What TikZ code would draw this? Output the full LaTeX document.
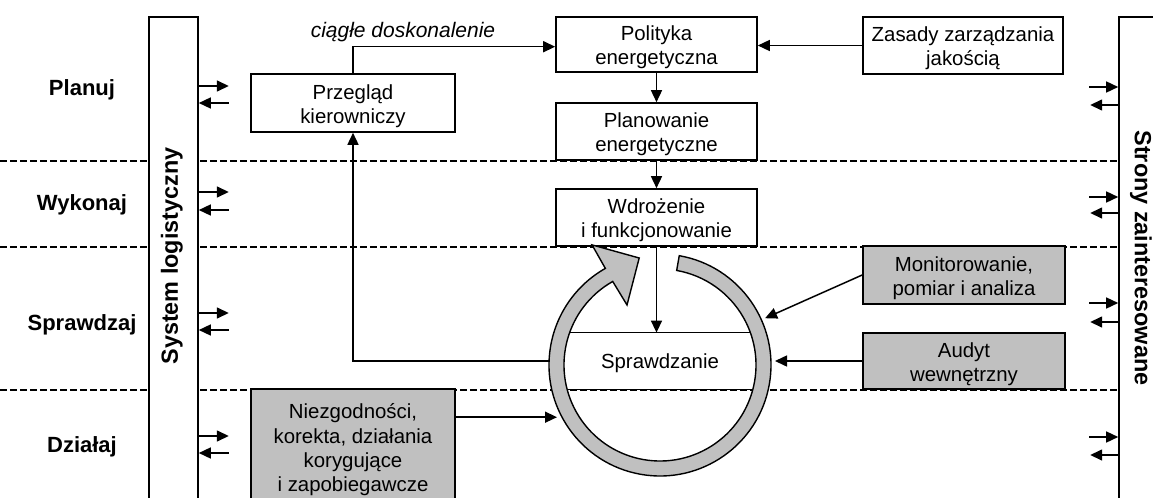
\documentclass[tikz,border=0pt]{standalone}
\usepackage{fontspec}
\setmainfont{Liberation Sans}
\usetikzlibrary{arrows.meta,calc}
\definecolor{boxgray}{HTML}{C0C0C0}
\begin{document}
\begin{tikzpicture}[x=0.5pt,y=0.5pt,
  every node/.style={font=\fontsize{10.2}{12.2}\selectfont},
  box/.style={draw,line width=0.8pt,fill=white,inner sep=0pt},
  graybox/.style={box,fill=boxgray},
  boxtext/.style={align=center,inner sep=0pt},
  bar/.style={draw,line width=0.8pt,fill=white,inner sep=0pt},
  rowlabel/.style={font=\fontsize{11}{13}\selectfont\bfseries},
  sidelabel/.style={font=\fontsize{11.7}{14}\selectfont\bfseries},
  arr/.style={line width=0.75pt,-{Triangle[length=6pt,width=5.5pt]}},
  sep/.style={line width=0.6pt,dash pattern=on 3.3pt off 1.7pt},
  ring/.style={draw,line width=0.7pt,fill=boxgray}]
\useasboundingbox (0,0) rectangle (1153,-498);
\clip (0,0) rectangle (1153,-498);

% phase separators
\foreach \yy in {161,247,390}
  \draw[sep] (0,-\yy) -- (1153,-\yy);

% side bars
\node[bar,minimum width=24.5pt,minimum height=249pt] (sys) at (173.5,-266) {};
\node[bar,minimum width=30.5pt,minimum height=249pt] (str) at (1149.5,-266) {};
\node[sidelabel,rotate=90] (systxt) at (172,-256) {System logistyczny};
\node[sidelabel,rotate=-90] (strtxt) at (1141,-258) {Strony zainteresowane};

% phase names
\node[rowlabel] (planuj) at (82,-90) {Planuj};
\node[rowlabel] (wykonaj) at (82,-205) {Wykonaj};
\node[rowlabel] (sprawdzaj) at (82,-325) {Sprawdzaj};
\node[rowlabel] (dzialaj) at (82,-447) {Działaj};

% exchange arrows at the side bars
\foreach \ya/\yb in {86/103,192/210,313/330,436/453}{
  \path (0,-\ya) coordinate (la) (0,-\yb) coordinate (lb);
  \draw[arr] (sys.east |- la) -- ++(15pt,0);
  \draw[arr] ($(sys.east |- lb)+(15pt,0)$) -- (sys.east |- lb);
}
\foreach \ya/\yb in {87/105,197/213,303/322,437/455}{
  \path (0,-\ya) coordinate (ra) (0,-\yb) coordinate (rb);
  \draw[arr] ($(str.west |- ra)+(-14.5pt,0)$) -- (str.west |- ra);
  \draw[arr] (str.west |- rb) -- ++(-14pt,0);
}

% boxes and their texts
\node[box,minimum width=100.5pt,minimum height=27.5pt] (pol) at (656.5,-44.5) {};
\node[boxtext] (polt) at ([yshift=-1.5pt]pol.center) {Polityka\\energetyczna};
\node[box,minimum width=100pt,minimum height=28.5pt] (zas) at (963,-45.5) {};
\node[boxtext] (zast) at ([yshift=-1.5pt]zas.center) {Zasady zarządzania\\jakością};
\node[box,minimum width=102pt,minimum height=29pt] (prz) at (353,-103) {};
\node[boxtext] (przt) at ([yshift=-1.5pt]prz.center) {Przegląd\\kierowniczy};
\node[box,minimum width=100.5pt,minimum height=28.5pt] (plan) at (656.5,-131.5) {};
\node[boxtext] (plant) at ([yshift=-1.5pt]plan.center) {Planowanie\\energetyczne};
\node[box,minimum width=100.5pt,minimum height=28.5pt] (wdr) at (656.5,-217.5) {};
\node[boxtext] (wdrt) at ([yshift=-1.5pt]wdr.center) {Wdrożenie\\i funkcjonowanie};
\node[graybox,minimum width=101pt,minimum height=29pt] (mon) at (964,-275) {};
\node[boxtext] (mont) at ([yshift=-1.5pt]mon.center) {Monitorowanie,\\pomiar i analiza};
\node[graybox,minimum width=101pt,minimum height=28pt] (aud) at (964,-361) {};
\node[boxtext] (audt) at ([yshift=-1.5pt]aud.center) {Audyt\\wewnętrzny};
\node[graybox,minimum width=102pt,minimum height=63pt] (nie) at (353,-452) {};
\node[boxtext] (niet) at (353,-450) {Niezgodności,\\korekta, działania\\korygujące\\i zapobiegawcze};

% improvement cycle ring with arrowhead
\coordinate (ringc) at (660,-365);
\path[ring] ($(ringc)+(80:55.5pt)$)
  arc[start angle=80,end angle=-240.5,radius=55.5pt]
  -- ($(ringc)+(119.5:69pt)$)
  -- ($(ringc)+(101:54.5pt)$)
  -- ($(ringc)+(118.8:34.25pt)$)
  -- ($(ringc)+(-240.5:48pt)$)
  arc[start angle=-240.5,end angle=80,radius=48pt]
  -- cycle;

% checking stage inside the ring
\node[minimum width=100pt,minimum height=28pt,inner sep=0pt] (spr) at (660,-361) {};
\node[inner sep=0pt] (sprt) at ([yshift=-1pt]spr.center) {Sprawdzanie};
\begin{scope}
  \clip (ringc) circle[radius=48pt];
  \draw[line width=0.75pt] ($(spr.north west)+(-20pt,0)$) -- ($(spr.north east)+(20pt,0)$);
  \draw[line width=0.75pt] ($(spr.south west)+(-20pt,0)$) -- ($(spr.south east)+(20pt,0)$);
\end{scope}

% connectors
\draw[arr] (pol.south) -- (plan.north);
\draw[arr] (plan.south) -- (wdr.north);
\draw[arr] (wdr.south) -- (wdr.south |- spr.north);
\draw[arr] (zas.west) -- (zas.west -| pol.east);
\draw[arr] (prz.north) |- ([yshift=-1.1pt]pol.west);
\node[font=\fontsize{10.5}{12}\selectfont\itshape] (cd) at (403,-32) {ciągłe doskonalenie};
\coordinate (ringW) at (549,-361);
\draw[arr] (ringW) -| (prz.south);
\coordinate (monTip) at ($(ringc)+(24:57.5pt)$);
\draw[arr] (mon.west) -- (monTip);
\coordinate (audTip) at (775,-361);
\draw[arr] (aud.west) -- (audTip);
\coordinate (nieOut) at ($(nie.north east)+(0,-14.5pt)$);
\coordinate (nieTip) at (557,-419);
\draw[arr] (nieOut) -- (nieOut -| nieTip);
\end{tikzpicture}
\end{document}
